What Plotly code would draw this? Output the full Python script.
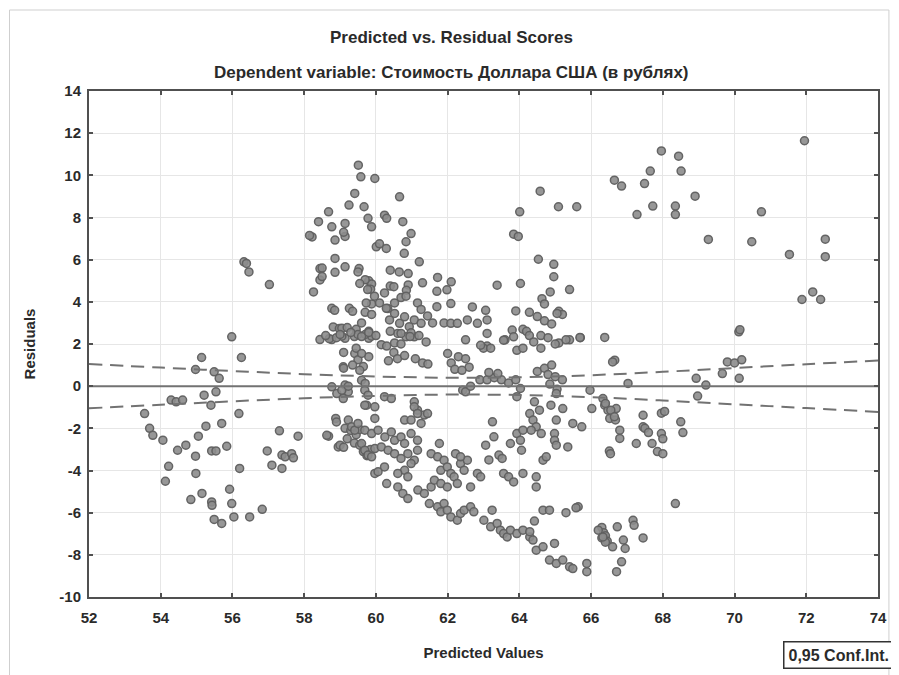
import plotly.graph_objects as go

# ---------------- data ----------------
predicted = [
    59.51, 59.58, 59.97, 59.41, 59.25, 59.67, 58.68, 58.40, 58.77, 59.14, 59.78, 59.88, 58.22, 58.15, 58.86, 59.14, 60.01,
    58.86, 58.44, 58.44, 58.86, 59.14, 59.53, 59.80, 59.88, 59.85, 58.26, 56.32, 56.39, 56.46, 57.03,
    58.77, 58.85, 59.26, 59.70, 59.88, 58.81, 58.98, 59.45, 58.44, 58.77, 59.14, 59.40, 59.80, 55.98,
    60.66, 60.24, 60.30, 60.75, 59.10, 60.98, 60.84, 60.10, 60.29, 60.79, 61.21, 59.50, 60.40, 60.65, 60.90,
    59.70, 60.40, 60.50, 60.90, 60.85, 61.30, 61.72, 62.10, 61.98, 61.70, 62.09, 61.70, 62.69, 63.06, 63.38, 64.03,
    64.01, 63.84, 63.97, 64.58, 65.09, 65.60, 64.53, 64.96, 64.96, 65.40, 64.86, 64.63, 64.70, 65.10, 65.20, 65.05,
    64.28, 64.50, 64.70, 64.90, 63.90, 63.80, 64.10, 64.20, 63.60, 64.60, 65.10, 65.40, 65.70, 66.38, 66.65,
    58.50, 58.50, 59.35, 59.88, 59.05, 59.20, 59.60, 59.80,
    60.33, 60.52, 60.38, 60.66, 60.80, 60.93, 61.07, 61.26, 60.61, 60.84, 61.07,
    61.90, 62.09, 62.27, 62.55, 62.83, 63.10, 63.10, 63.00, 63.20, 62.50,
    59.55, 59.77, 59.96, 60.24, 59.73, 60.10, 60.29, 60.52, 60.70, 60.84, 61.16, 61.26, 61.44, 61.58,
    60.98, 60.52, 60.15, 59.88, 59.50, 59.05,
    66.85, 67.96, 68.44, 67.65, 68.51, 67.49, 67.72, 67.28, 68.35, 68.35, 68.90, 69.27, 70.75, 70.48, 71.53,
    71.95, 72.53, 72.53, 71.88, 72.18, 72.40, 70.12, 70.15, 65.69,
    66.66, 69.80, 70.00, 70.20, 69.66, 70.13, 68.93, 69.20, 68.97, 67.03, 65.97, 66.02, 66.38, 66.47, 66.70,
    66.52, 66.68, 65.74, 66.80, 66.80, 66.51, 67.45, 67.45, 67.50, 67.60, 67.96, 68.05, 67.96, 68.00,
    67.26, 67.70, 67.85, 68.00, 68.50, 68.56, 68.35, 65.64, 66.30, 66.35, 66.40, 66.45, 66.30, 66.40,
    66.73, 66.90, 66.95, 67.17, 67.20, 67.45, 66.85, 65.88, 65.88, 66.71,
    56.25, 55.14, 54.97, 55.49, 55.63, 55.21, 55.54, 55.40, 54.29, 54.43, 54.61, 53.55, 53.69, 53.78, 54.06,
    56.18, 55.70, 55.26, 55.05, 54.70, 54.47, 54.97, 55.42, 55.54, 55.84, 54.22, 54.98, 56.20, 54.13, 55.92,
    55.15, 54.84, 55.42, 55.43, 55.98, 55.49, 55.70, 56.04, 56.48, 56.83, 57.31, 57.83, 56.97, 57.38, 57.47,
    57.65, 57.70, 57.10, 57.38, 58.68, 58.88, 58.95, 59.09, 58.77, 58.91, 59.14, 59.23, 59.09,
    58.70, 58.90, 59.70, 59.60, 59.70, 59.41, 59.50, 59.65, 59.80, 59.74, 59.97,
    59.14, 59.30, 59.45, 59.55, 59.20, 59.40, 59.55, 59.65, 59.75, 59.85, 59.97,
    58.60, 59.00, 59.30, 59.60, 59.80, 60.00, 60.40, 60.70, 60.95, 61.20, 61.40, 62.00, 62.92, 63.10,
    63.56, 63.84, 63.93, 64.10, 64.28, 64.40, 64.60, 64.80, 65.00, 65.30, 66.60,
    59.10, 59.45, 59.60, 59.35, 59.55, 59.10, 60.30, 60.50, 60.70, 60.35, 60.60, 60.80, 61.10, 61.30, 61.45,
    62.10, 62.30, 62.50, 62.60, 62.20, 62.40, 62.90, 63.10, 63.30, 63.50, 63.70, 63.90, 63.40, 63.15,
    64.50, 64.70, 64.90, 64.80, 65.00, 65.20, 64.85, 65.05,
    59.05, 59.23, 59.69, 59.78, 60.24, 60.43, 62.42, 62.50, 62.64, 63.93, 64.03, 65.03,
    59.69, 59.97, 61.07, 61.16, 61.35, 60.80,
    58.63, 58.90, 59.00, 59.10,
    59.23, 59.32, 59.41, 59.50, 59.69, 59.88, 60.06, 60.25, 60.43, 60.52, 60.70, 60.80, 60.98, 61.16, 60.98,
    61.07, 61.16, 61.26, 61.44,
    59.60, 59.69, 59.78, 59.97, 59.88, 60.15, 60.34, 60.52, 60.70, 60.89, 61.07, 61.16, 60.98, 60.80, 60.89,
    60.61, 60.24, 60.06, 60.30, 60.61, 60.75, 60.89,
    61.17, 61.35, 61.54, 61.49, 61.72, 61.90, 61.81, 61.99, 62.09, 62.27, 62.36, 62.46, 62.64, 62.73,
    61.54, 61.72, 61.90, 61.81, 61.99, 62.09, 61.63, 61.81, 61.99, 62.18, 62.27, 62.36, 62.46, 62.55, 62.64,
    62.22, 62.36, 61.77, 62.83, 62.92,
    63.01, 63.20, 63.38, 63.47, 63.56, 63.66, 63.75, 63.93, 64.10, 64.29, 64.38, 64.47, 64.66, 64.98, 64.84,
    65.03, 65.21, 65.40, 65.49, 66.20, 66.33, 66.60,
    63.25, 63.29, 63.06, 63.15, 63.43, 63.52, 63.56, 63.70, 63.84, 63.75, 63.93, 64.03, 64.10, 64.06, 64.10,
    64.29, 64.38, 64.47, 64.33, 64.56, 64.61, 64.42, 64.47, 64.47, 64.66, 64.75, 64.66, 64.84, 64.88, 65.03,
    64.98, 64.98, 65.03, 65.21, 65.35, 65.49, 65.30, 65.58, 66.33, 66.40, 66.55, 66.65, 66.54, 63.24, 64.42,
    64.29,
]

residuals = [
    10.48, 9.93, 9.85, 9.14, 8.59, 8.51, 8.27, 7.80, 7.56, 7.72, 7.96, 7.56, 7.08, 7.15, 6.93, 7.10, 6.61,
    6.06, 5.58, 5.04, 5.40, 5.66, 5.58, 5.00, 4.85, 4.60, 4.47, 5.90, 5.82, 5.42, 4.82,
    3.69, 3.60, 3.69, 3.50, 3.90, 2.81, 2.73, 2.70, 2.21, 2.21, 2.27, 2.35, 2.27, 2.34,
    8.98, 8.11, 7.96, 7.80, 7.30, 7.24, 6.85, 6.75, 6.53, 6.30, 5.90, 5.42, 5.50, 5.42, 5.34,
    5.05, 4.75, 4.72, 4.80, 4.55, 4.90, 5.16, 4.95, 4.57, 4.50, 3.92, 3.77, 3.76, 3.60, 4.79, 4.87,
    8.27, 7.21, 7.10, 9.25, 8.51, 8.51, 6.02, 5.78, 5.19, 4.58, 4.47, 4.15, 3.90, 3.55, 3.40, 3.45,
    3.50, 3.30, 3.10, 2.95, 3.57, 2.66, 2.70, 2.60, 2.20, 2.40, 2.05, 2.20, 2.30, 2.31, 9.77,
    5.60, 5.20, 3.55, 3.40, 2.75, 2.78, 3.00, 2.60,
    3.68, 3.45, 3.14, 2.98, 3.29, 2.82, 3.14, 2.98, 2.50, 2.34, 2.34,
    3.00, 2.98, 2.98, 3.14, 2.98, 3.14, 1.90, 1.80, 1.80, 2.20,
    4.87, 4.58, 4.27, 4.42, 3.95, 3.95, 3.69, 3.95, 4.20, 4.27, 3.95, 3.64, 3.33, 3.00,
    2.53, 2.05, 1.97, 2.37, 2.45, 2.37,
    9.49, 11.16, 10.91, 10.20, 10.20, 9.61, 8.54, 8.14, 8.54, 8.14, 9.01, 6.96, 8.27, 6.85, 6.25,
    11.64, 6.97, 6.14, 4.11, 4.47, 4.11, 2.58, 2.68, 2.31,
    1.23, 1.15, 1.10, 1.25, 0.60, 0.37, 0.37, 0.05, -0.47, 0.13, -0.19, -1.06, -0.90, -1.14, -1.06,
    -1.53, -1.60, -1.93, -2.09, -2.48, -3.08, -1.38, -1.93, -2.00, -2.20, -1.28, -1.20, -2.25, -2.50,
    -2.72, -2.72, -3.10, -3.20, -1.69, -2.20, -5.57, -5.72, -6.70, -6.95, -7.10, -7.35, -7.20, -7.40,
    -6.67, -7.30, -7.70, -6.36, -6.60, -7.20, -8.33, -8.41, -8.80, -8.80,
    1.36, 1.36, 0.79, 0.68, 0.37, -0.43, -0.27, -0.90, -0.66, -0.74, -0.66, -1.30, -2.00, -2.33, -2.56,
    -1.30, -1.77, -1.90, -2.37, -2.80, -3.04, -3.32, -3.07, -3.07, -2.85, -3.80, -4.14, -3.90, -4.51, -4.89,
    -5.09, -5.38, -5.49, -5.65, -5.57, -6.32, -6.51, -6.20, -6.20, -5.84, -2.12, -2.37, -3.07, -3.27, -3.35,
    -3.20, -3.40, -3.75, -3.90, -2.37, -1.53, -2.88, 0.92, -0.03, -0.35, 0.05, -0.27, -0.59,
    2.25, 2.30, 2.45, 0.28, 0.13, 1.55, 1.25, 0.93, 1.40, -0.90, -1.53,
    -2.00, -2.10, -2.30, -2.05, -2.50, -2.70, -2.80, -3.10, -3.30, -3.00, -4.14,
    2.40, 2.45, 2.55, 2.35, 2.55, 2.40, 2.60, 2.50, 2.35, 2.40, 2.10, 1.55, 1.94, 2.50,
    2.18, 2.34, 1.70, 1.80, 2.40, 2.10, 1.80, 2.30, 2.00, 2.20, 1.15,
    1.60, 1.80, 1.55, 1.00, 0.75, 0.85, 1.90, 1.60, 2.00, 1.20, 1.30, 1.45, 1.30, 1.10, 1.05,
    1.10, 1.40, 1.30, 0.90, 0.80, 0.75, 0.30, 0.30, 0.40, 0.30, 0.15, 0.30, 0.60, 0.65,
    0.70, 0.85, 1.00, 0.55, 0.45, 0.30, 0.10, -0.15,
    -0.19, 0.00, -0.19, -0.43, -0.50, -0.59, -0.19, -0.27, 0.00, -0.50, -0.11, -0.35,
    -0.90, -0.98, -0.74, -1.14, -1.37, -1.61,
    -2.33, -1.70, -2.80, -2.90,
    -1.61, -1.93, -2.09, -1.77, -2.09, -2.25, -2.09, -2.41, -2.17, -2.57, -2.41, -2.72, -2.25, -2.57, -1.61,
    -0.98, -1.30, -1.77, -1.30,
    -2.72, -3.04, -3.27, -2.96, -3.35, -2.88, -3.04, -3.20, -3.43, -3.20, -3.51, -3.04, -3.67, -3.99, -4.30,
    -4.14, -3.83, -4.06, -4.62, -4.78, -5.09, -5.33,
    -4.93, -5.09, -4.78, -5.57, -5.72, -5.57, -5.96, -5.88, -6.20, -6.36, -6.04, -5.88, -5.72, -5.96,
    -3.20, -3.35, -3.51, -3.99, -3.83, -4.14, -4.46, -4.62, -4.78, -4.30, -4.62, -3.67, -3.99, -3.51, -4.78,
    -3.20, -3.35, -2.72, -4.14, -4.30,
    -6.36, -6.67, -6.51, -6.83, -6.99, -7.15, -6.83, -6.99, -6.83, -7.15, -7.30, -7.78, -7.62, -7.46, -8.25,
    -8.41, -8.25, -8.57, -8.65, -6.83, -7.15, -7.62,
    -1.69, -2.40, -2.80, -3.50, -3.27, -3.43, -4.14, -4.30, -4.54, -2.72, -2.25, -2.57, -2.09, -3.04, -4.14,
    -1.30, -1.61, -1.93, -2.09, -1.14, -2.25, -0.74, -4.30, -4.78, -3.51, -3.35, -5.88, -5.88, -0.90, -1.61,
    -2.25, -2.57, -2.80, -1.06, -2.88, -1.77, -6.00, -5.77, -0.59, -0.82, -1.14, -1.45, -3.20, -5.88, -6.40,
    -6.90,
]

# regression (residual = 0) line and 0.95 confidence band
fit_x = [52, 74]
fit_y = [0, 0]
conf_x = [52, 54, 56, 58, 60, 62, 64, 66, 68, 70, 72, 74]
conf_upper = [1.05, 0.88, 0.72, 0.57, 0.46, 0.40, 0.42, 0.52, 0.68, 0.86, 1.04, 1.22]
conf_lower = [-1.05, -0.88, -0.72, -0.57, -0.46, -0.40, -0.42, -0.52, -0.68, -0.86, -1.04, -1.22]

x_ticks = [52, 54, 56, 58, 60, 62, 64, 66, 68, 70, 72, 74]
y_ticks = [-10, -8, -6, -4, -2, 0, 2, 4, 6, 8, 10, 12, 14]

title_text = "Predicted vs. Residual Scores"
subtitle_text = "Dependent variable: Стоимость Доллара США (в рублях)"
x_title = "Predicted Values"
y_title = "Residuals"
legend_text = "0,95 Conf.Int."

# ---------------- figure ----------------
FONT = "Liberation Sans, Arial, sans-serif"
TXT = "#2a2a2a"
OFF = 8                      # page body margin of the html page
W, H = 899 - OFF, 675 - OFF  # figure size so that it ends at the window edge
# plot area in page pixels: x 89..883, y 91..597
L, T = 89 - OFF, 91 - OFF
R = W - (883 - OFF)
B = H - (597 - OFF)
pw, ph = W - L - R, H - T - B


def px_to_paper_x(px):
    return (px - OFF - L) / pw


def px_to_paper_y(py):
    return (H - B - (py - OFF)) / ph


fig = go.Figure()

fig.add_trace(go.Scatter(
    x=predicted, y=residuals, mode="markers",
    marker=dict(size=8, color="rgba(140,140,140,0.9)",
                line=dict(color="rgba(95,95,95,0.95)", width=1.5)),
    showlegend=False, hoverinfo="x+y",
))
fig.add_trace(go.Scatter(
    x=fit_x, y=fit_y, mode="lines",
    line=dict(color="#727272", width=2), showlegend=False,
))
for band in (conf_upper, conf_lower):
    fig.add_trace(go.Scatter(
        x=conf_x, y=band, mode="lines", line_shape="spline",
        line=dict(color="#727272", width=2, dash="13px,8px"), showlegend=False,
    ))

axis_common = dict(
    showline=True, linecolor="#505050", linewidth=2, mirror="ticks",
    ticks="inside", ticklen=4, tickwidth=1.5, tickcolor="#505050",
    showgrid=True, gridcolor="#e6e6e6", gridwidth=1, zeroline=False,
    tickfont=dict(family=FONT, size=15, color=TXT, weight="bold"),
)

fig.update_xaxes(range=[52, 74], tickvals=x_ticks, ticktext=[str(v) for v in x_ticks],
                 title=dict(text=x_title, standoff=22,
                            font=dict(family=FONT, size=15, color=TXT, weight="bold")),
                 ticklabelstandoff=6, **axis_common)
fig.update_yaxes(range=[-10, 14], tickvals=y_ticks, ticktext=[str(v) for v in y_ticks],
                 title=dict(text=y_title, standoff=20,
                            font=dict(family=FONT, size=15, color=TXT, weight="bold")),
                 ticklabelstandoff=3, **axis_common)

fig.update_layout(
    width=W, height=H,
    margin=dict(l=L, r=R, t=T, b=B),
    paper_bgcolor="white", plot_bgcolor="white",
    font=dict(family=FONT, color=TXT),
    showlegend=False,
    annotations=[
        dict(text=title_text, xref="paper", yref="paper",
             x=px_to_paper_x(454), y=px_to_paper_y(38), xanchor="center", yanchor="middle",
             showarrow=False, font=dict(family=FONT, size=17, color=TXT, weight="bold")),
        dict(text=subtitle_text, xref="paper", yref="paper",
             x=px_to_paper_x(454), y=px_to_paper_y(72), xanchor="center", yanchor="middle",
             showarrow=False, font=dict(family=FONT, size=17, color=TXT, weight="bold")),
        dict(text=legend_text, xref="paper", yref="paper",
             x=px_to_paper_x(787), y=px_to_paper_y(641), xanchor="left", yanchor="top",
             showarrow=False, bordercolor="#333333", borderwidth=1.5, borderpad=4,
             bgcolor="white", font=dict(family=FONT, size=16, color=TXT, weight="bold")),
    ],
    shapes=[
        dict(type="rect", xref="paper", yref="paper",
             x0=px_to_paper_x(9), x1=px_to_paper_x(894),
             y0=px_to_paper_y(690), y1=px_to_paper_y(10),
             line=dict(color="#cfcfcf", width=1), layer="below"),
    ],
)

fig.write_html("out.html")
